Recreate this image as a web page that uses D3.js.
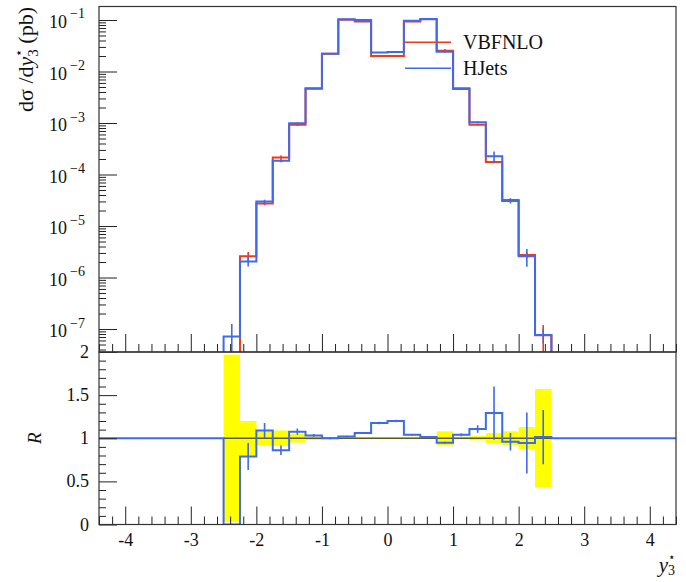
<!DOCTYPE html>
<html>
<head>
<meta charset="utf-8">
<script src="https://cdn.jsdelivr.net/npm/d3@7"></script>
<style>
  body { margin: 0; background: #fff; }
  svg { display: block; }
  text { font-family: "Liberation Serif", "DejaVu Serif", serif; fill: #111; }
</style>
</head>
<body>
<div id="chart"></div>
<script>
// bin edges of y3* (20 bins of width 0.25)
var edges = [-2.5, -2.25, -2.0, -1.75, -1.5, -1.25, -1.0, -0.75, -0.5, -0.25, 0.0,
             0.25, 0.5, 0.75, 1.0, 1.25, 1.5, 1.75, 2.0, 2.25, 2.5];

// dsigma/dy3* (pb)
var vbfnlo = [0, 2.6e-6, 2.75e-5, 2.15e-4, 9.2e-4, 4.6e-3, 2.22e-2, 0.101, 0.094, 0.0199,
              0.0199, 0.093, 0.103, 0.0254, 4.55e-3, 9.3e-4, 1.75e-4, 3.2e-5, 2.75e-6, 7.6e-8];
var hjets = [7.2e-8, 2.05e-6, 3.0e-5, 1.85e-4, 9.9e-4, 4.75e-3, 2.22e-2, 0.103, 0.0996, 0.0234,
             0.0239, 0.0967, 0.1045, 0.0241, 4.73e-3, 1.03e-3, 2.26e-4, 3.07e-5, 2.6e-6, 7.7e-8];

// relative uncertainties
var vbfnloErr = [0.97, 0.20, 0.08, 0.09, 0.05, 0.02, 0.01, 0.008, 0.008, 0.01,
                 0.01, 0.008, 0.008, 0.08, 0.012, 0.025, 0.06, 0.08, 0.13, 0.57];
var hjetsErr = [0.74, 0.20, 0.08, 0.065, 0.033, 0.015, 0.012, 0.01, 0.01, 0.012,
                0.012, 0.01, 0.01, 0.012, 0.015, 0.04, 0.24, 0.105, 0.375, 0.31];

var xTicks = [-4, -3, -2, -1, 0, 1, 2, 3, 4];
var rTicks = [0, 0.5, 1, 1.5, 2];
var decades = [-7, -6, -5, -4, -3, -2, -1];

var red = "#ee3a1e", blue = "#3d6af0";

var W = 686, H = 582;
var left = 99, right = 676;
var topY = 6.5, midY = 352, botY = 524.5;
var floor = 1e-12;

var svg = d3.select("#chart").append("svg")
    .attr("width", W)
    .attr("height", H);

var x = d3.scaleLinear().domain([-4.4, 4.4]).range([left, right]);
var y = d3.scaleLog().domain([Math.pow(10, -7.446), Math.pow(10, -0.738)]).range([midY, topY]);
var r = d3.scaleLinear().domain([0, 2]).range([botY, midY]);

var defs = svg.append("defs");
defs.append("clipPath").attr("id", "clipTop").append("rect")
    .attr("x", left).attr("y", topY).attr("width", right - left).attr("height", midY - topY);
defs.append("clipPath").attr("id", "clipBot").append("rect")
    .attr("x", left).attr("y", midY).attr("width", right - left).attr("height", botY - midY);

var n = vbfnlo.length;
var centers = d3.range(n).map(i => (edges[i] + edges[i + 1]) / 2);

// ---------- top panel ----------
var topG = svg.append("g").attr("clip-path", "url(#clipTop)");

function stepPoints(vals) {
    var pts = [[edges[0], floor]];
    vals.forEach((v, i) => {
        pts.push([edges[i], v]);
        pts.push([edges[i + 1], v]);
    });
    pts.push([edges[n], floor]);
    return pts;
}

var logLine = d3.line()
    .x(d => x(d[0]))
    .y(d => y(Math.max(d[1], floor)));

function drawHist(vals, errs, color) {
    topG.append("path")
        .attr("d", logLine(stepPoints(vals)))
        .attr("fill", "none")
        .attr("stroke", color)
        .attr("stroke-width", 2);
    topG.selectAll(null)
        .data(d3.range(n).filter(i => vals[i] > 0))
        .enter().append("line")
        .attr("x1", i => x(centers[i]))
        .attr("x2", i => x(centers[i]))
        .attr("y1", i => y(Math.max(vals[i] * (1 - errs[i]), floor)))
        .attr("y2", i => y(vals[i] * (1 + errs[i])))
        .attr("stroke", color)
        .attr("stroke-width", 1.6);
}
drawHist(vbfnlo, vbfnloErr, red);
drawHist(hjets, hjetsErr, blue);

// legend
var legend = svg.append("g");
[["VBFNLO", red, 42.3], ["HJets", blue, 68.3]].forEach(function (d) {
    legend.append("line")
        .attr("x1", 405).attr("x2", 451)
        .attr("y1", d[2]).attr("y2", d[2])
        .attr("stroke", d[1]).attr("stroke-width", 1.6);
    legend.append("text")
        .attr("x", 463).attr("y", d[2] + 6.5)
        .attr("font-size", 20)
        .text(d[0]);
});

// ---------- ratio panel ----------
var botG = svg.append("g").attr("clip-path", "url(#clipBot)");
var ratio = hjets.map((v, i) => vbfnlo[i] > 0 ? v / vbfnlo[i] : 0);

botG.selectAll("rect.band")
    .data(d3.range(n))
    .enter().append("rect")
    .attr("class", "band")
    .attr("x", i => x(edges[i]))
    .attr("width", i => x(edges[i + 1]) - x(edges[i]))
    .attr("y", i => r(1 + vbfnloErr[i]))
    .attr("height", i => r(1 - vbfnloErr[i]) - r(1 + vbfnloErr[i]))
    .attr("fill", "#ffff00");

botG.append("line")
    .attr("x1", x(edges[0])).attr("x2", x(edges[n]))
    .attr("y1", r(1)).attr("y2", r(1))
    .attr("stroke", "#5c5c1f").attr("stroke-width", 1.6);

// ratio step, flat at 1 outside the binned range
var rPts = [[-4.4, 1], [edges[0], 1]];
ratio.forEach((v, i) => {
    rPts.push([edges[i], v]);
    rPts.push([edges[i + 1], v]);
});
rPts.push([edges[n], 1]);
rPts.push([4.4, 1]);

botG.append("path")
    .attr("d", d3.line().x(d => x(d[0])).y(d => r(d[1]))(rPts))
    .attr("fill", "none")
    .attr("stroke", blue)
    .attr("stroke-width", 2);

botG.selectAll("line.err")
    .data(d3.range(n).filter(i => ratio[i] > 0))
    .enter().append("line")
    .attr("class", "err")
    .attr("x1", i => x(centers[i]))
    .attr("x2", i => x(centers[i]))
    .attr("y1", i => r(ratio[i] * (1 - hjetsErr[i])))
    .attr("y2", i => r(ratio[i] * (1 + hjetsErr[i])))
    .attr("stroke", blue)
    .attr("stroke-width", 1.6);

// ---------- axes / ticks ----------
var minorX = d3.range(-22, 23).map(k => k / 5).filter(v => Math.abs(v - Math.round(v)) > 1e-6);

function xTickAxis(yPos) {
    var g1 = svg.append("g").attr("transform", "translate(0," + yPos + ")")
        .call(d3.axisBottom(x).tickValues(minorX).tickSize(-8).tickFormat(""));
    var g2 = svg.append("g").attr("transform", "translate(0," + yPos + ")")
        .call(d3.axisBottom(x).tickValues(xTicks).tickSize(-18).tickPadding(9)
            .tickFormat(d => String(d)));
    [g1, g2].forEach(g => {
        g.select(".domain").remove();
        g.selectAll("line").attr("stroke", "#222");
    });
    return g2;
}
xTickAxis(midY).selectAll("text").remove();
xTickAxis(botY).selectAll("text")
    .attr("font-size", 18)
    .attr("font-family", "Liberation Serif, serif")
    .attr("fill", "#111");

// log y axis
var minorLog = [];
d3.range(-8, 0).forEach(k => {
    d3.range(2, 10).forEach(m => {
        var v = m * Math.pow(10, k);
        if (y(v) > topY && y(v) < midY) minorLog.push(v);
    });
});
var gy1 = svg.append("g").attr("transform", "translate(" + left + ",0)")
    .call(d3.axisLeft(y).tickValues(minorLog).tickSize(-7).tickFormat(""));
var gy2 = svg.append("g").attr("transform", "translate(" + left + ",0)")
    .call(d3.axisLeft(y).tickValues(decades.map(k => Math.pow(10, k))).tickSize(-18).tickFormat(""));
[gy1, gy2].forEach(g => {
    g.select(".domain").remove();
    g.selectAll("line").attr("stroke", "#222");
});

decades.forEach(k => {
    var yy = y(Math.pow(10, k));
    svg.append("text")
        .attr("x", 67).attr("y", yy + 8)
        .attr("text-anchor", "end")
        .attr("font-size", 18)
        .text("10");
    svg.append("text")
        .attr("x", 70).attr("y", yy - 1.5)
        .attr("font-size", 14)
        .text("\u2212" + (-k));
});

// ratio y axis
var minorR = d3.range(1, 20).map(k => k / 10).filter(v => Math.abs(v * 2 - Math.round(v * 2)) > 1e-6);
var gr1 = svg.append("g").attr("transform", "translate(" + left + ",0)")
    .call(d3.axisLeft(r).tickValues(minorR).tickSize(-7).tickFormat(""));
var gr2 = svg.append("g").attr("transform", "translate(" + left + ",0)")
    .call(d3.axisLeft(r).tickValues(rTicks).tickSize(-18).tickFormat(""));
[gr1, gr2].forEach(g => {
    g.select(".domain").remove();
    g.selectAll("line").attr("stroke", "#222");
});
rTicks.forEach(v => {
    svg.append("text")
        .attr("x", 89).attr("y", r(v) + 6)
        .attr("text-anchor", "end")
        .attr("font-size", 18)
        .text(String(v));
});

// frames
svg.append("rect")
    .attr("x", left).attr("y", topY)
    .attr("width", right - left).attr("height", midY - topY)
    .attr("fill", "none").attr("stroke", "#333").attr("stroke-width", 1.2);
svg.append("rect")
    .attr("x", left).attr("y", midY)
    .attr("width", right - left).attr("height", botY - midY)
    .attr("fill", "none").attr("stroke", "#333").attr("stroke-width", 1.2);

// y title
var yt = svg.append("text")
    .attr("transform", "translate(33,7) rotate(-90)")
    .attr("text-anchor", "end")
    .attr("font-size", 22);
yt.append("tspan").text("d\u03c3 /d");
yt.append("tspan").style("font-style", "italic").text("y");
yt.append("tspan").attr("font-size", 13).attr("dy", -10).text("\u22c6");
yt.append("tspan").attr("font-size", 15).attr("dx", -8).attr("dy", 15).text("3");
yt.append("tspan").attr("dy", -5).text(" (pb)");

// ratio title
svg.append("text")
    .attr("transform", "translate(41," + r(1) + ") rotate(-90)")
    .attr("text-anchor", "middle")
    .attr("font-size", 19)
    .style("font-style", "italic")
    .text("R");

// x title
var xt = svg.append("text")
    .attr("x", 676).attr("y", 572)
    .attr("text-anchor", "end")
    .attr("font-size", 21);
xt.append("tspan").style("font-style", "italic").text("y");
xt.append("tspan").attr("font-size", 12).attr("dy", -11).text("\u22c6");
xt.append("tspan").attr("font-size", 14).attr("dx", -8).attr("dy", 14).text("3");
</script>
</body>
</html>
